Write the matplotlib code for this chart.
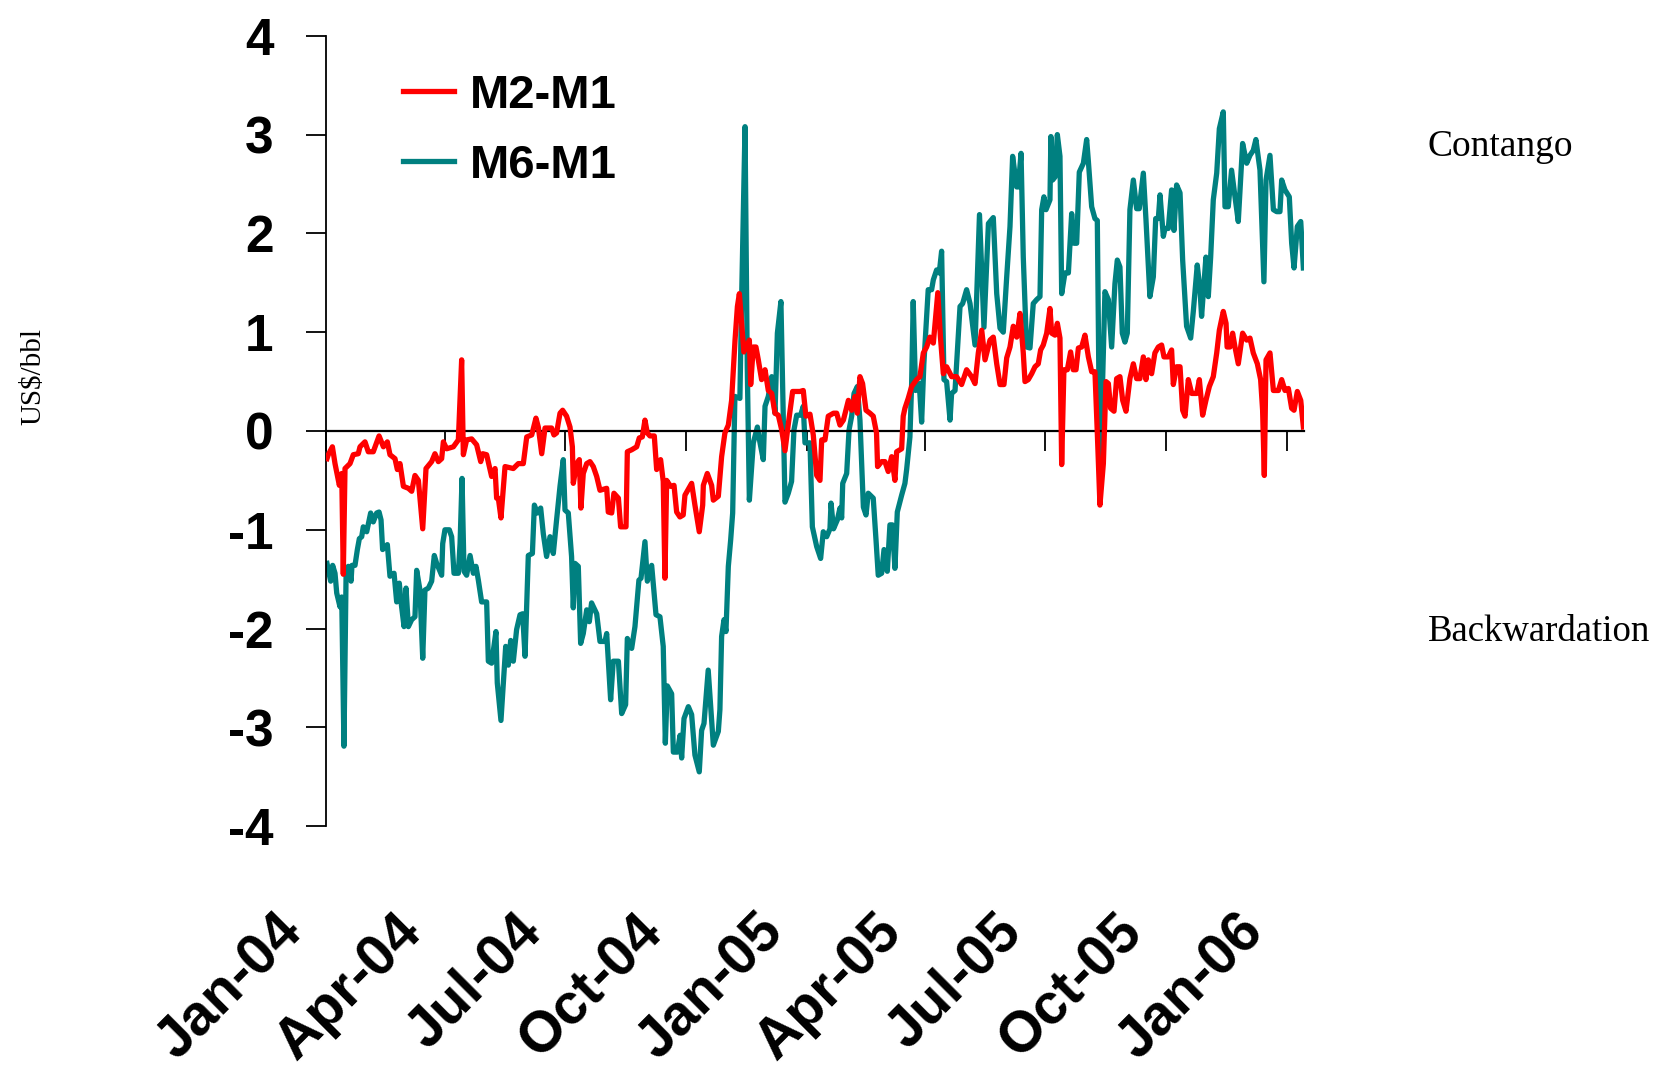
import datetime
import numpy as np
import matplotlib
matplotlib.use("Agg")
import matplotlib.pyplot as plt
import matplotlib.dates as mdates
import matplotlib.transforms as mtransforms

plt.rcParams['axes.unicode_minus'] = False

# ---- data: days since 2004-01-01 and spread values (US$/bbl) ----
start_date = datetime.date(2004, 1, 1)

m2_days = [1, 2.0, 5.1, 7.1, 10.4, 12.2, 13.4, 14.7, 18.5, 21.0, 24.8, 26.1, 29.9, 32.4, 36.2, 40.6,
           43.9, 46.9, 48.9, 52.7, 54.5, 56.5, 59.1, 62.9, 65.4, 67.9, 70.5, 73.8, 76.3, 80.6, 83.1,
           85.7, 88.2, 89.5, 92.0, 97.1, 100.9, 103.4, 104.7, 107.2, 111.0, 114.8, 117.9, 119.4,
           122.4, 126.2, 128.8, 130.0, 131.3, 133.3, 136.4, 142.7, 146.5, 150.3, 152.9, 156.7,
           159.9, 161.7, 164.3, 166.8, 171.8, 173.6, 175.6, 178.2, 180.2, 183.2, 185.8, 187.6,
           188.3, 190.9, 192.9, 194.1, 195.9, 198.5, 201.0, 203.5, 206.1, 208.6, 213.7, 214.9,
           217.5, 219.2, 222.6, 224.3, 228.4, 229.4, 232.7, 236.5, 238.5, 240.8, 242.8, 244.6,
           246.6, 249.9, 251.7, 254.7, 256.7, 258.0, 259.3, 262.3, 264.9, 266.9, 269.4, 271.9,
           273.2, 278.3, 280.8, 284.1, 286.7, 287.2, 290.2, 293.5, 294.8, 298.6, 301.1, 303.6,
           306.2, 308.7, 311.3, 313.1, 314.6, 318.0, 322.2, 323.2, 325.2, 327.2, 329.0, 331.5,
           334.1, 336.6, 339.2, 341.7, 344.2, 346.8, 349.3, 351.9, 355.1, 360.7, 363.2, 365.2,
           368.3, 370.8, 373.4, 375.9, 377.2, 379.7, 382.2, 386.2, 388.6, 391.1, 393.7, 397.5,
           400.0, 402.5, 404.3, 406.3, 408.3, 410.9, 413.9, 416.4, 418.9, 419.7, 422.8, 425.3,
           427.8, 430.4, 432.9, 434.2, 438.0, 439.2, 440.5, 443.0, 445.6, 449.4, 451.9, 454.5,
           457.0, 459.5, 462.1, 465.5, 467.5, 469.7, 472.2, 476.0, 479.8, 483.6, 487.4, 491.2,
           493.8, 496.3, 498.9, 501.4, 505.2, 507.7, 510.3, 512.8, 515.8, 517.9, 520.4, 522.9,
           525.5, 528.0, 530.5, 531.8, 534.3, 536.9, 539.4, 541.9, 543.7, 545.7, 548.3, 550.8,
           552.1, 554.6, 556.4, 558.4, 559.7, 561.4, 564.0, 566.5, 568.5, 570.6, 572.4, 574.9,
           577.4, 580.0, 582.5, 585.0, 586.8, 588.8, 591.4, 593.4, 595.2, 596.9, 599.5, 601.5,
           604.0, 606.1, 608.6, 611.6, 614.2, 616.7, 619.2, 621.8, 623.8, 625.6, 628.1, 630.6,
           633.2, 635.7, 637.5, 640.8, 643.3, 644.6, 647.1, 649.7, 651.7, 653.5, 656.0, 658.6,
           662.4, 664.4, 666.9, 669.4, 672.0, 675.0, 677.6, 679.6, 682.6, 684.7, 685.5, 687.7,
           689.7, 691.5, 694.0, 697.3, 700.4, 702.9, 705.4, 708.5, 711.0, 712.5, 713.8, 715.1,
           718.1, 720.7, 724.5, 727.0, 729.5, 732.1, 734.6, 736.4, 738.9, 741.5, 743.5]
m2_values = [-0.28, -0.24, -0.16, -0.33, -0.55, -0.43, -1.45, -0.38, -0.33, -0.24, -0.23, -0.16, -0.11,
             -0.21, -0.21, -0.05, -0.16, -0.11, -0.24, -0.28, -0.39, -0.33, -0.56, -0.58, -0.61,
             -0.45, -0.50, -0.99, -0.38, -0.31, -0.23, -0.31, -0.28, -0.11, -0.18, -0.16, -0.09,
             0.72, -0.24, -0.09, -0.08, -0.14, -0.31, -0.23, -0.24, -0.46, -0.38, -0.68, -0.68,
             -0.88, -0.36, -0.38, -0.33, -0.33, -0.06, -0.04, 0.13, 0.04, -0.23, 0.03, 0.03, -0.04,
             -0.02, 0.18, 0.21, 0.15, 0.04, -0.16, -0.53, -0.33, -0.29, -0.78, -0.43, -0.33, -0.31,
             -0.36, -0.46, -0.60, -0.58, -0.82, -0.83, -0.63, -0.68, -0.97, -0.97, -0.21, -0.19,
             -0.16, -0.07, -0.06, 0.11, -0.02, -0.05, -0.05, -0.39, -0.29, -0.51, -1.49, -0.50,
             -0.56, -0.55, -0.82, -0.87, -0.85, -0.65, -0.53, -0.75, -1.02, -0.75, -0.55, -0.43,
             -0.55, -0.70, -0.66, -0.26, -0.02, 0.06, 0.31, 0.92, 1.26, 1.39, 0.80, 0.92, 0.47,
             0.85, 0.85, 0.72, 0.52, 0.62, 0.41, 0.38, 0.18, 0.16, 0.01, -0.20, 0.08, 0.40, 0.40,
             0.41, 0.15, 0.17, -0.04, -0.45, -0.50, -0.09, -0.09, 0.15, 0.18, 0.18, 0.06, 0.11,
             0.31, 0.21, 0.35, 0.18, 0.55, 0.48, 0.21, 0.18, 0.15, -0.02, -0.36, -0.31, -0.31,
             -0.41, -0.26, -0.50, -0.21, -0.18, 0.15, 0.23, 0.33, 0.45, 0.52, 0.55, 0.79, 0.85,
             0.95, 0.89, 1.40, 0.95, 0.58, 0.65, 0.55, 0.55, 0.47, 0.62, 0.55, 0.48, 0.79, 1.02,
             0.72, 0.92, 0.95, 0.68, 0.47, 0.47, 0.74, 0.85, 1.06, 0.95, 1.19, 0.79, 0.50, 0.52,
             0.58, 0.65, 0.68, 0.82, 0.87, 0.99, 1.24, 0.99, 0.97, 1.09, 0.94, -0.34, 0.62, 0.62,
             0.80, 0.62, 0.62, 0.84, 0.85, 0.97, 0.75, 0.60, 0.60, -0.02, -0.75, -0.33, 0.50,
             0.48, 0.23, 0.20, 0.53, 0.55, 0.31, 0.20, 0.53, 0.68, 0.53, 0.53, 0.75, 0.52, 0.72,
             0.58, 0.79, 0.85, 0.87, 0.75, 0.75, 0.82, 0.47, 0.65, 0.65, 0.21, 0.15, 0.52, 0.38,
             0.38, 0.52, 0.16, 0.31, 0.45, 0.55, 0.79, 1.02, 1.21, 1.09, 0.85, 0.85, 0.99, 0.85,
             0.68, 0.99, 0.92, 0.94, 0.79, 0.68, 0.52, 0.21, -0.45, 0.72, 0.79, 0.41, 0.41, 0.52,
             0.41, 0.43, 0.23, 0.21, 0.40, 0.31, 0.04]

m6_days = [1, 3.8, 5.3, 7.1, 8.4, 10.9, 12.2, 13.9, 15.5, 17.2, 19.3, 20.0, 22.3, 24.1, 25.6, 27.4,
           28.6, 31.2, 34.2, 36.2, 38.8, 40.6, 42.1, 43.3, 46.9, 48.9, 52.0, 54.0, 56.0, 57.3, 59.6,
           61.1, 62.9, 65.4, 67.9, 69.2, 71.7, 73.8, 75.5, 78.1, 80.6, 82.6, 84.4, 88.2, 89.0, 90.7,
           94.0, 95.8, 97.6, 100.9, 102.2, 103.7, 105.2, 107.2, 109.8, 112.3, 114.3, 116.1, 118.6,
           122.4, 123.7, 126.2, 129.5, 130.5, 133.3, 136.9, 138.9, 140.7, 142.7, 145.2, 147.8,
           149.8, 151.6, 154.1, 157.2, 158.7, 161.0, 163.5, 165.5, 168.0, 170.6, 173.1, 175.6,
           178.2, 180.7, 182.0, 184.5, 187.0, 188.3, 189.6, 192.1, 193.9, 195.9, 198.5, 200.5,
           202.2, 206.1, 208.6, 212.4, 213.7, 216.7, 218.7, 222.6, 225.1, 228.1, 229.4, 232.7,
           235.2, 238.2, 239.8, 242.8, 244.6, 247.9, 251.2, 254.2, 256.7, 258.3, 259.8, 263.1,
           264.4, 267.4, 269.5, 270.7, 272.5, 275.8, 278.3, 280.8, 284.1, 285.9, 287.7, 290.9,
           293.5, 294.8, 298.6, 299.8, 301.1, 302.9, 304.4, 306.2, 308.0, 309.5, 311.2, 315.0,
           316.3, 318.9, 320.6, 322.2, 325.2, 328.3, 330.3, 332.8, 334.1, 336.6, 339.2, 341.7,
           343.5, 346.2, 349.3, 351.8, 354.3, 356.1, 358.2, 361.2, 363.2, 364.5, 368.3, 370.1,
           373.4, 376.4, 378.4, 381.0, 383.5, 384.3, 386.2, 389.1, 391.1, 392.4, 393.2, 396.2,
           398.0, 400.0, 401.8, 404.3, 406.3, 408.9, 410.9, 412.6, 416.4, 418.5, 420.2, 422.8,
           424.6, 427.1, 429.1, 430.9, 432.9, 434.7, 438.0, 440.5, 441.8, 444.3, 445.6, 446.8,
           448.6, 451.4, 453.2, 454.9, 458.2, 460.8, 462.1, 464.6, 466.6, 468.4, 470.2, 472.2,
           474.8, 476.0, 478.6, 482.4, 484.4, 487.4, 490.0, 493.8, 497.2, 500.6, 504.0, 507.7,
           510.3, 512.8, 515.3, 517.9, 520.4, 522.4, 525.5, 526.7, 528.8, 530.5, 533.0, 535.6,
           538.1, 540.7, 543.2, 544.5, 546.2, 547.8, 550.8, 551.5, 552.8, 554.6, 556.4, 558.4,
           559.7, 562.2, 564.8, 567.3, 569.1, 571.1, 573.1, 576.2, 578.7, 580.0, 582.5, 585.0,
           586.8, 588.8, 592.6, 595.2, 597.7, 600.2, 602.0, 604.0, 605.8, 607.8, 609.6, 611.6,
           614.2, 616.7, 618.7, 621.8, 623.8, 626.8, 629.4, 631.2, 633.2, 634.5, 637.0, 638.3,
           640.8, 643.3, 645.1, 647.1, 649.7, 651.7, 654.7, 657.8, 659.8, 662.8, 664.9, 666.1,
           669.4, 671.2, 673.0, 675.0, 677.6, 679.6, 682.6, 683.9, 686.4, 688.9, 691.5, 694.0,
           697.3, 700.4, 702.9, 705.4, 707.4, 710.5, 713.5, 715.1, 718.1, 720.7, 723.2, 725.7,
           727.0, 729.5, 732.8, 734.6, 736.4, 738.9, 741.5, 743.5]
m6_values = [-1.34, -1.52, -1.36, -1.44, -1.64, -1.78, -1.68, -3.19, -1.47, -1.37, -1.52, -1.36, -1.36,
             -1.20, -1.09, -1.07, -0.97, -1.02, -0.83, -0.92, -0.83, -0.82, -0.90, -1.20, -1.15,
             -1.47, -1.44, -1.73, -1.54, -1.73, -1.98, -1.59, -1.98, -1.91, -1.88, -1.41, -1.61,
             -2.30, -1.61, -1.59, -1.52, -1.26, -1.34, -1.46, -1.14, -1.00, -1.00, -1.07, -1.44,
             -1.44, -1.14, -0.48, -1.42, -1.46, -1.26, -1.44, -1.37, -1.51, -1.73, -1.73, -2.33,
             -2.35, -2.03, -2.55, -2.93, -2.18, -2.37, -2.12, -2.33, -2.01, -1.86, -1.85, -2.28,
             -1.26, -1.24, -0.75, -0.83, -0.78, -1.04, -1.27, -1.07, -1.24, -0.90, -0.56, -0.29,
             -0.80, -0.83, -1.27, -1.79, -1.34, -1.37, -2.15, -2.05, -1.81, -1.93, -1.74, -1.85,
             -2.13, -2.13, -2.05, -2.72, -2.33, -2.33, -2.86, -2.77, -2.10, -2.20, -1.98, -1.51,
             -1.49, -1.12, -1.52, -1.36, -1.86, -1.88, -2.18, -3.16, -2.58, -2.66, -3.25, -3.25,
             -3.08, -3.31, -2.91, -2.79, -2.87, -3.28, -3.45, -3.03, -2.96, -2.42, -2.93, -3.18,
             -3.04, -2.82, -2.08, -1.91, -2.03, -1.37, -1.10, -0.83, 0.35, 0.33, 1.33, 3.08, 0.65,
             -0.70, -0.12, 0.04, -0.12, -0.29, 0.25, 0.35, 0.55, 0.18, 0.99, 1.31, -0.72, -0.63,
             -0.51, 0.01, 0.16, 0.16, 0.25, -0.12, -0.12, -0.97, -1.17, -1.29, -1.02, -1.07, -0.99,
             -0.73, -0.99, -0.90, -0.78, -0.88, -0.53, -0.43, 0.01, 0.15, 0.38, 0.45, 0.11, -0.77,
             -0.85, -0.63, -0.68, -1.10, -1.46, -1.44, -1.20, -1.42, -0.95, -0.95, -1.39, -0.82,
             -0.65, -0.53, -0.39, -0.06, 0.48, 1.31, 0.41, 0.48, 0.09, 0.68, 1.43, 1.43, 1.53, 1.63,
             1.60, 1.82, 0.52, 0.50, 0.11, 0.38, 0.41, 1.26, 1.29, 1.43, 1.29, 0.87, 2.19, 1.05,
             2.10, 2.16, 1.39, 1.04, 1.00, 1.56, 2.07, 2.78, 2.47, 2.47, 2.81, 1.76, 0.85, 0.84,
             1.29, 1.33, 1.36, 2.24, 2.37, 2.24, 2.34, 2.98, 2.54, 2.57, 3.00, 2.78, 1.39, 1.60,
             1.60, 2.20, 1.90, 1.90, 2.62, 2.71, 2.95, 2.73, 2.27, 2.15, 2.13, -0.53, 1.41, 1.33,
             0.85, 1.49, 1.73, 1.66, 0.99, 0.90, 0.99, 2.24, 2.54, 2.25, 2.25, 2.61, 2.14, 1.36,
             1.56, 2.15, 2.15, 2.39, 1.97, 2.05, 2.05, 2.44, 2.03, 2.49, 2.41, 1.73, 1.06, 0.94,
             1.21, 1.68, 1.43, 1.16, 1.76, 1.36, 1.76, 2.34, 2.61, 3.06, 3.23, 2.27, 2.27, 2.64,
             2.37, 2.12, 2.91, 2.71, 2.79, 2.84, 2.95, 2.64, 1.51, 2.54, 2.79, 2.24, 2.22, 2.22,
             2.54, 2.44, 2.37, 1.90, 1.65, 2.07, 2.12, 1.65]

series_labels = ["M2-M1", "M6-M1"]
series_colors = ["#FF0000", "#008080"]
y_ticks = [-4, -3, -2, -1, 0, 1, 2, 3, 4]

# ---- figure ----
fig = plt.figure(figsize=(16.65, 10.68), dpi=100)
ax = fig.add_axes([0.1956, 0.2264, 0.5876, 0.7401])

base = mdates.date2num(start_date)
x_m2 = base + np.asarray(m2_days)
x_m6 = base + np.asarray(m6_days)

ax.plot(x_m2, m2_values, color=series_colors[0], lw=3.8, label=series_labels[0],
        solid_joinstyle='round', zorder=3)
ax.plot(x_m6, m6_values, color=series_colors[1], lw=3.8, label=series_labels[1],
        solid_joinstyle='round', zorder=2)

ax.set_xlim(base, base + 744)
ax.set_ylim(-4, 4)
ax.set_yticks(y_ticks)
ax.set_yticklabels([str(v) for v in y_ticks])

for s in ("top", "right"):
    ax.spines[s].set_visible(False)
ax.spines["bottom"].set_position(("data", 0))
ax.spines["bottom"].set_linewidth(1.6)
ax.spines["left"].set_linewidth(1.3)
ax.spines["left"].set_bounds(-4, 4)

ax.xaxis.set_major_locator(mdates.MonthLocator(bymonth=(1, 4, 7, 10)))
ax.xaxis.set_major_formatter(mdates.DateFormatter('%b-%y'))

ax.tick_params(axis='y', direction='out', length=14.5, width=1.3, pad=23,
               labelsize=37)
ax.tick_params(axis='x', direction='out', length=14.5, width=1.3, pad=340,
               labelsize=41)

offset = mtransforms.ScaledTranslation(-0.32, 0, fig.dpi_scale_trans)
for lbl in ax.get_xticklabels():
    lbl.set_rotation(45)
    lbl.set_rotation_mode('anchor')
    lbl.set_ha('right')
    lbl.set_va('center')
    lbl.set_fontweight('bold')
    lbl.set_family('Liberation Sans')
    lbl.set_transform(lbl.get_transform() + offset)
for lbl in ax.get_yticklabels():
    lbl.set_fontweight('bold')
    lbl.set_family('Liberation Sans')

leg = ax.legend(loc='upper left', bbox_to_anchor=(403 / 1665, 1 - 74 / 1068),
                bbox_transform=fig.transFigure, frameon=False,
                prop={'family': 'Liberation Sans', 'weight': 'bold', 'size': 34},
                handlelength=1.08, handletextpad=0.34, labelspacing=0.55,
                borderpad=0, borderaxespad=0)

fig.text(1428 / 1665, 1 - 147 / 1068, "Contango", fontsize=27,
         family='Liberation Serif', ha='left', va='center')
fig.text(1428 / 1665, 1 - 632 / 1068, "Backwardation", fontsize=26.5,
         family='Liberation Serif', ha='left', va='center')
fig.text(33 / 1665, 1 - 377 / 1068, "US$/bbl", fontsize=21, rotation=90,
         family='Liberation Serif', ha='center', va='center')

fig.savefig("out.png", dpi=100)
